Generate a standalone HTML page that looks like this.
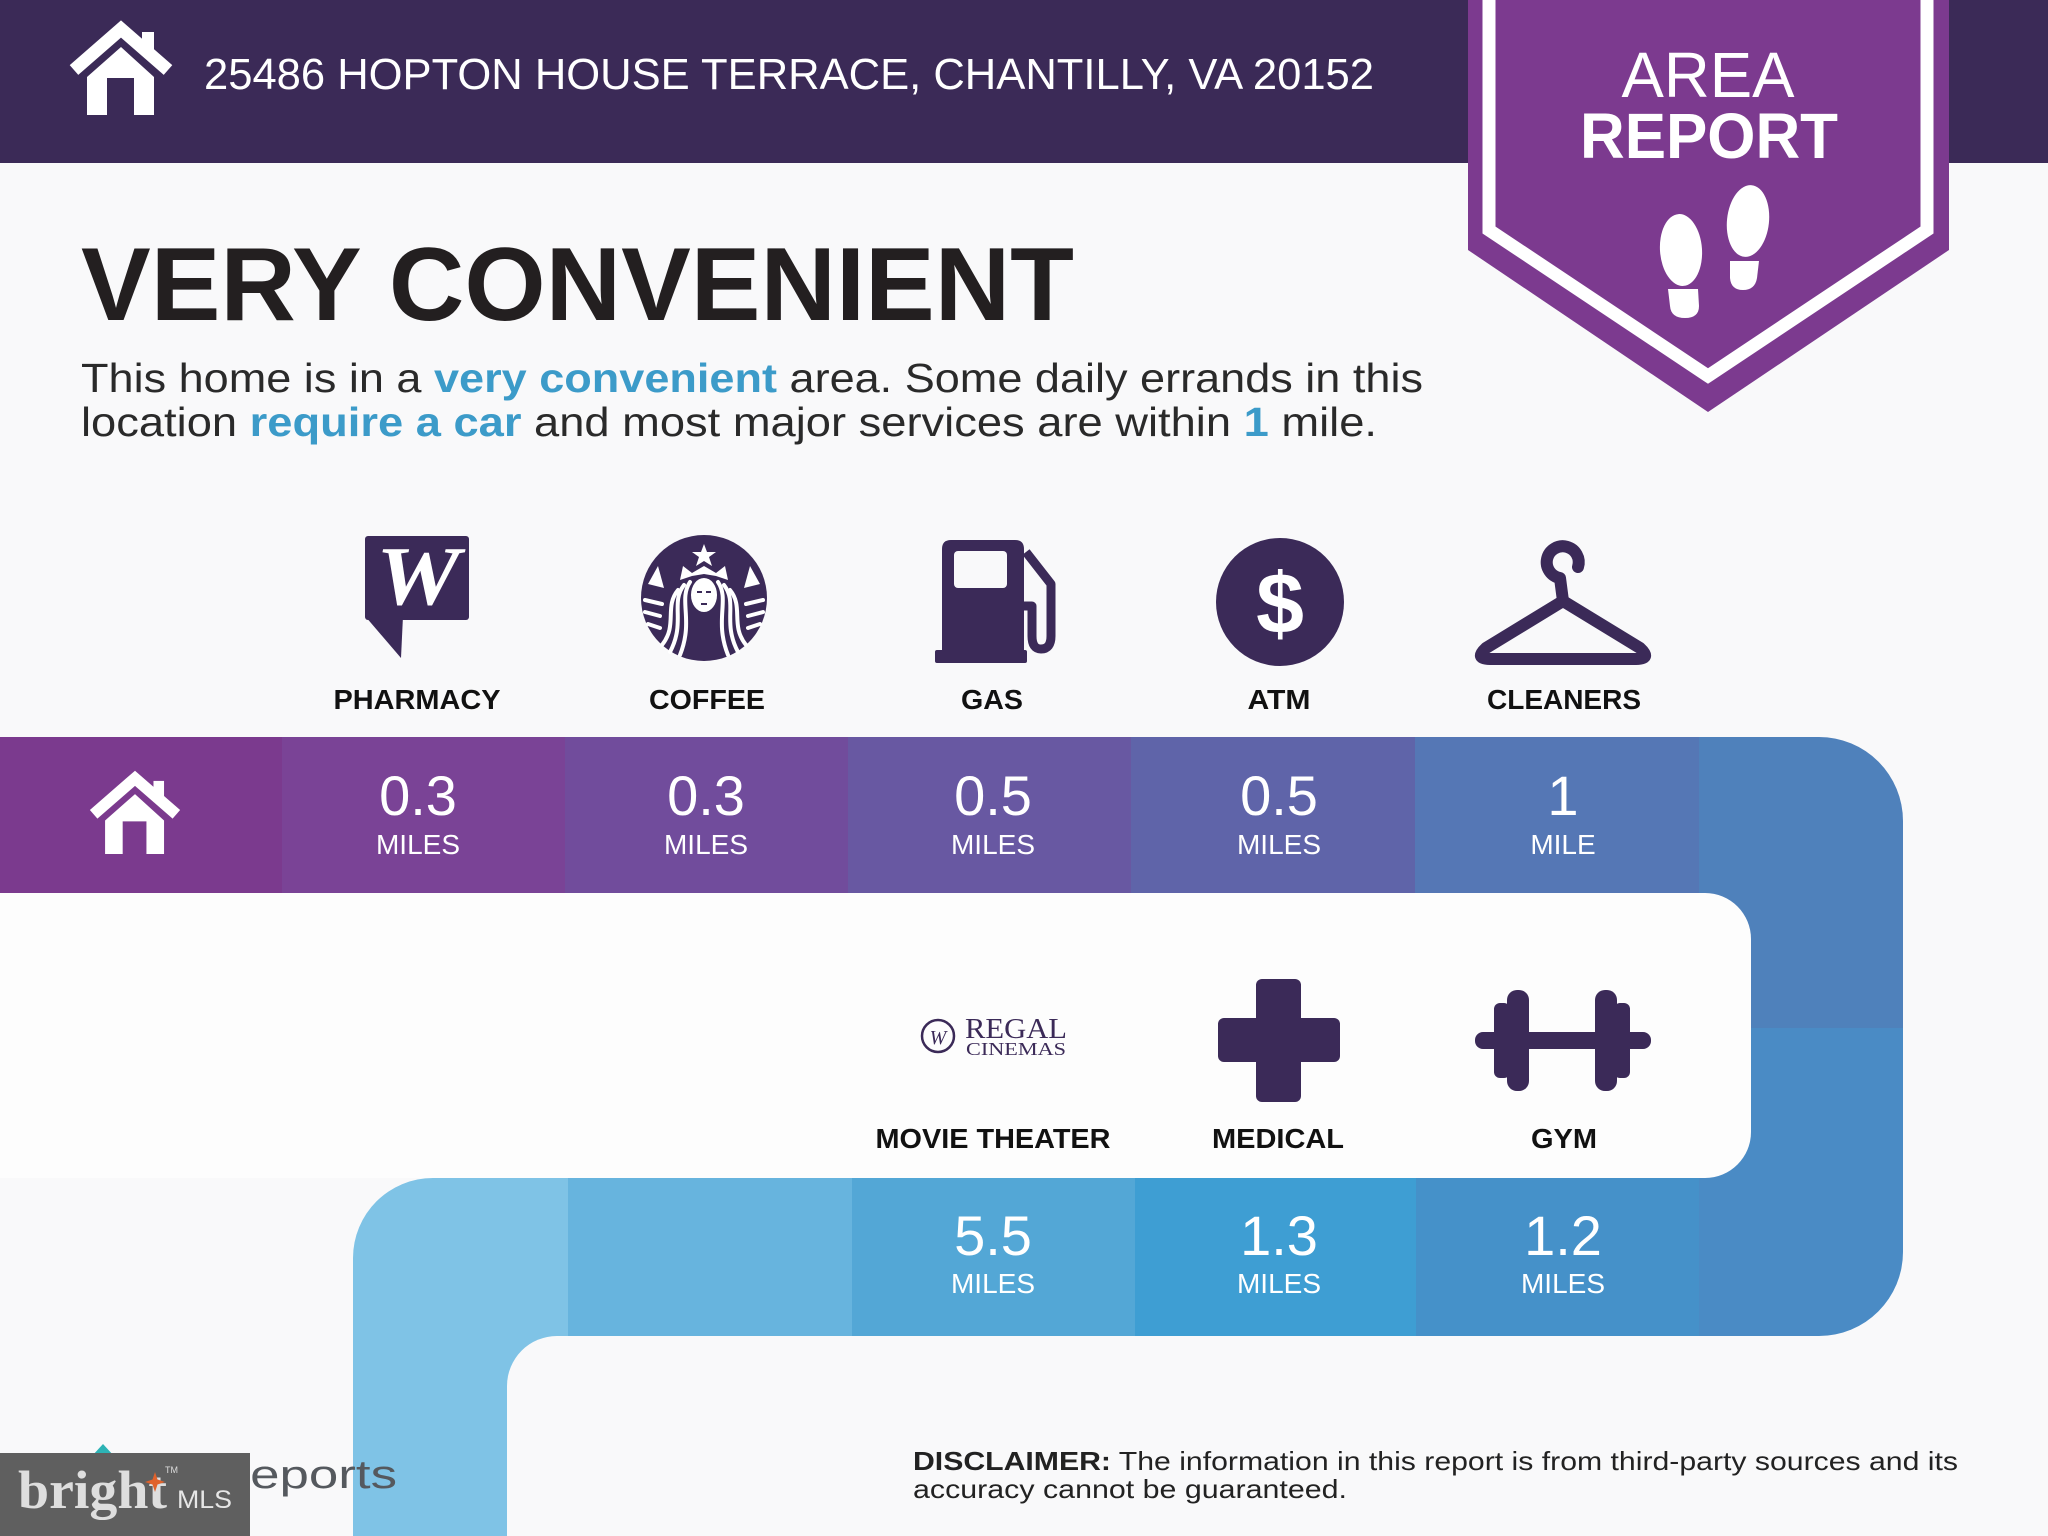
<!DOCTYPE html>
<html>
<head>
<meta charset="utf-8">
<style>
  html,body{margin:0;padding:0;background:#f9f9fa;width:2048px;height:1536px;overflow:hidden;}
  svg{display:block;}
  text{font-family:"Liberation Sans", Arial, sans-serif;}
  .serif{font-family:"Liberation Serif", "Times New Roman", serif;}
</style>
</head>
<body>
<svg width="2048" height="1536" viewBox="0 0 2048 1536" xmlns="http://www.w3.org/2000/svg" style="overflow:hidden">
  <defs>
    <clipPath id="rbar">
      <rect x="1600" y="737" width="303" height="599" rx="84" ry="84"/>
    </clipPath>
    <g id="house">
      <polyline points="3,47 50,6 97,47" fill="none" stroke="#ffffff" stroke-width="13" stroke-linejoin="miter"/>
      <rect x="71" y="9" width="12" height="24" fill="#ffffff"/>
      <path d="M16,92 L16,54 L50,24 L83,54 L83,92 L63,92 L63,55 L36,55 L36,92 Z" fill="#ffffff"/>
    </g>
  </defs>

  <!-- background -->
  <rect x="0" y="0" width="2048" height="1536" fill="#f9f9fa"/>

  <!-- header band -->
  <rect x="0" y="0" width="2048" height="163" fill="#3b2a57"/>
  <g transform="translate(71,23)"><use href="#house"/></g>
  <text x="204" y="89" font-size="44" fill="#ffffff" textLength="1170" lengthAdjust="spacingAndGlyphs">25486 HOPTON HOUSE TERRACE, CHANTILLY, VA 20152</text>

  <!-- area report badge -->
  <polygon points="1468,0 1949,0 1949,250 1708,412 1468,250" fill="#7c3a8f"/>
  <polyline points="1489,0 1489,230 1708,376 1927,230 1927,0" fill="none" stroke="#ffffff" stroke-width="13" stroke-linejoin="miter"/>
  <text x="1708" y="97" font-size="64" fill="#ffffff" text-anchor="middle" textLength="173" lengthAdjust="spacingAndGlyphs">AREA</text>
  <text x="1709" y="158" font-size="64" font-weight="bold" fill="#ffffff" text-anchor="middle" textLength="258" lengthAdjust="spacingAndGlyphs">REPORT</text>
  <!-- footprints -->
  <g fill="#ffffff">
    <ellipse cx="1681" cy="250" rx="21" ry="36" transform="rotate(-4 1681 250)"/>
    <path d="M1668,289 L1698,289 L1699,306 Q1699,318 1685,318 Q1671,318 1670,306 Z"/>
    <ellipse cx="1748" cy="221" rx="21" ry="36" transform="rotate(6 1748 221)"/>
    <path d="M1730,261 L1759,261 L1757,278 Q1755,290 1743,290 Q1731,290 1730,278 Z"/>
  </g>

  <!-- heading -->
  <text x="81" y="320" font-size="104" font-weight="bold" fill="#231f20" textLength="993" lengthAdjust="spacingAndGlyphs">VERY CONVENIENT</text>
  <text x="81" y="392" font-size="41" fill="#2a2a2a" textLength="1342" lengthAdjust="spacingAndGlyphs">This home is in a <tspan font-weight="bold" fill="#3c9bc9">very convenient</tspan> area. Some daily errands in this</text>
  <text x="81" y="436" font-size="41" fill="#2a2a2a" textLength="1296" lengthAdjust="spacingAndGlyphs">location <tspan font-weight="bold" fill="#3c9bc9">require a car</tspan> and most major services are within <tspan font-weight="bold" fill="#3c9bc9">1</tspan> mile.</text>

  <!-- ===== top icons ===== -->
  <!-- Walgreens -->
  <g fill="#3b2a58">
    <rect x="365" y="536" width="104" height="84" rx="3"/>
    <polygon points="365,616 403,616 401,658"/>
  </g>
  <text x="418" y="604" class="serif" font-size="84" font-weight="bold" font-style="italic" fill="#ffffff" text-anchor="middle" textLength="84" lengthAdjust="spacingAndGlyphs">W</text>

  <!-- Starbucks -->
  <circle cx="704" cy="598" r="63" fill="#3b2a58"/>
  <g fill="#ffffff">
    <polygon points="704,544 707,552 716,552 709,557 712,566 704,561 696,566 699,557 692,552 701,552"/>
    <polygon points="680,580 683,566 692,573 704,566 716,573 725,566 728,580 716,576 704,574 692,576"/>
    <ellipse cx="704" cy="595" rx="13" ry="17"/>
    <polygon points="648,584 658,566 664,588"/>
    <polygon points="760,584 750,566 744,588"/>
  </g>
  <g fill="#3b2a58">
    <rect x="697" y="591" width="5" height="2"/>
    <rect x="706" y="591" width="5" height="2"/>
    <rect x="701" y="603" width="6" height="2"/>
  </g>
  <g fill="none" stroke="#ffffff" stroke-width="4" stroke-linecap="round">
    <path d="M690,582 C678,600 694,620 680,655"/>
    <path d="M684,585 C670,603 686,622 670,652"/>
    <path d="M678,590 C664,607 678,625 662,645"/>
    <path d="M718,582 C730,600 714,620 728,655"/>
    <path d="M724,585 C738,603 722,622 738,652"/>
    <path d="M730,590 C744,607 730,625 746,645"/>
    <path d="M645,600 L662,604"/>
    <path d="M645,612 L660,616"/>
    <path d="M648,624 L660,628"/>
    <path d="M763,600 L746,604"/>
    <path d="M763,612 L748,616"/>
    <path d="M760,624 L748,628"/>
  </g>

  <!-- Gas pump -->
  <g fill="#3b2a58">
    <path d="M942,549 Q942,540 951,540 L1015,540 Q1024,540 1024,549 L1024,654 L942,654 Z"/>
    <rect x="935" y="650" width="92" height="13" rx="2"/>
  </g>
  <rect x="954" y="551" width="53" height="37" rx="4" fill="#f9f9fa"/>
  <path d="M1026,552 L1051,584 L1051,636 Q1051,649 1041,649 Q1032,649 1032,636 L1032,606 L1024,606" fill="none" stroke="#3b2a58" stroke-width="9" stroke-linejoin="round"/>

  <!-- ATM -->
  <circle cx="1280" cy="602" r="64" fill="#3b2a58"/>
  <text x="1280" y="633" font-size="86" font-weight="bold" fill="#ffffff" text-anchor="middle">$</text>

  <!-- Hanger -->
  <g fill="none" stroke="#3b2a58" stroke-width="12" stroke-linecap="round" stroke-linejoin="round">
    <path d="M1578,567 A16,16 0 1 0 1560,578 L1563,601"/>
    <path d="M1563,601 L1486,648 Q1474,659 1490,659 L1636,659 Q1652,659 1640,648 Z"/>
  </g>

  <!-- top labels -->
  <g font-size="28" font-weight="bold" fill="#111111" text-anchor="middle">
    <text x="417" y="709" textLength="167" lengthAdjust="spacingAndGlyphs">PHARMACY</text>
    <text x="707" y="709" textLength="116" lengthAdjust="spacingAndGlyphs">COFFEE</text>
    <text x="992" y="709" textLength="62" lengthAdjust="spacingAndGlyphs">GAS</text>
    <text x="1279" y="709" textLength="63" lengthAdjust="spacingAndGlyphs">ATM</text>
    <text x="1564" y="709" textLength="154" lengthAdjust="spacingAndGlyphs">CLEANERS</text>
  </g>

  <!-- ===== route ===== -->
  <!-- right bar -->
  <g clip-path="url(#rbar)">
    <rect x="1600" y="737" width="303" height="291" fill="#4f81bb"/>
    <rect x="1600" y="1028" width="303" height="308" fill="#4a8bc5"/>
  </g>
  <!-- left bar -->
  <path d="M353,1536 L353,1258 A80,80 0 0 1 433,1178 L773,1178 L773,1536 Z" fill="#7fc3e6"/>

  <!-- row 1 cells -->
  <rect x="0" y="737" width="282" height="156" fill="#7b3a8e"/>
  <rect x="282" y="737" width="283" height="156" fill="#7a4396"/>
  <rect x="565" y="737" width="283" height="156" fill="#714c9c"/>
  <rect x="848" y="737" width="283" height="156" fill="#6858a2"/>
  <rect x="1131" y="737" width="284" height="156" fill="#5f64a9"/>
  <rect x="1415" y="737" width="284" height="156" fill="#5577b5"/>

  <!-- row 2 cells -->
  <rect x="568" y="1178" width="284" height="158" fill="#67b4de"/>
  <rect x="852" y="1178" width="283" height="158" fill="#53a7d6"/>
  <rect x="1135" y="1178" width="281" height="158" fill="#3e9ed3"/>
  <rect x="1416" y="1178" width="283" height="158" fill="#4591c9"/>

  <!-- inner areas -->
  <path d="M0,893 L1705,893 A46,46 0 0 1 1751,939 L1751,1132 A46,46 0 0 1 1705,1178 L0,1178 Z" fill="#fdfdfd"/>
  <path d="M507,1536 L507,1386 A50,50 0 0 1 557,1336 L2048,1336 L2048,1536 Z" fill="#f9f9fa"/>

  <!-- row 1 content -->
  <g transform="translate(91,773) scale(0.88)"><use href="#house"/></g>
  <g fill="#ffffff" text-anchor="middle">
    <text x="418" y="815" font-size="56">0.3</text>
    <text x="706" y="815" font-size="56">0.3</text>
    <text x="993" y="815" font-size="56">0.5</text>
    <text x="1279" y="815" font-size="56">0.5</text>
    <text x="1563" y="815" font-size="56">1</text>
    <text x="418" y="854" font-size="28">MILES</text>
    <text x="706" y="854" font-size="28">MILES</text>
    <text x="993" y="854" font-size="28">MILES</text>
    <text x="1279" y="854" font-size="28">MILES</text>
    <text x="1563" y="854" font-size="28">MILE</text>
  </g>

  <!-- row 2 icons -->
  <!-- Regal -->
  <circle cx="938" cy="1036" r="16" fill="none" stroke="#3b2a58" stroke-width="2.5"/>
  <text x="938" y="1044" class="serif" font-size="20" fill="#3b2a58" text-anchor="middle" font-style="italic">W</text>
  <text x="965" y="1038" class="serif" font-size="29" fill="#3b2a58" textLength="102" lengthAdjust="spacingAndGlyphs">REGAL</text>
  <text x="966" y="1055" class="serif" font-size="18" fill="#3b2a58" textLength="100" lengthAdjust="spacingAndGlyphs">CINEMAS</text>
  <!-- Medical -->
  <g fill="#3b2a58">
    <rect x="1256" y="979" width="45" height="123" rx="6"/>
    <rect x="1218" y="1018" width="122" height="44" rx="6"/>
  </g>
  <!-- Dumbbell -->
  <g fill="#3b2a58">
    <rect x="1475" y="1032" width="176" height="17" rx="8"/>
    <rect x="1507" y="990" width="22" height="101" rx="10"/>
    <rect x="1494" y="1003" width="16" height="75" rx="6"/>
    <rect x="1595" y="990" width="22" height="101" rx="10"/>
    <rect x="1614" y="1003" width="16" height="75" rx="6"/>
  </g>

  <!-- row 2 labels -->
  <g font-size="28" font-weight="bold" fill="#111111" text-anchor="middle">
    <text x="993" y="1148" textLength="235" lengthAdjust="spacingAndGlyphs">MOVIE THEATER</text>
    <text x="1278" y="1148" textLength="132" lengthAdjust="spacingAndGlyphs">MEDICAL</text>
    <text x="1564" y="1148" textLength="66" lengthAdjust="spacingAndGlyphs">GYM</text>
  </g>

  <!-- row 2 content -->
  <g fill="#ffffff" text-anchor="middle">
    <text x="993" y="1255" font-size="56">5.5</text>
    <text x="1279" y="1255" font-size="56">1.3</text>
    <text x="1563" y="1255" font-size="56">1.2</text>
    <text x="993" y="1293" font-size="28">MILES</text>
    <text x="1279" y="1293" font-size="28">MILES</text>
    <text x="1563" y="1293" font-size="28">MILES</text>
  </g>

  <!-- disclaimer -->
  <text x="913" y="1470" font-size="26" fill="#222222" textLength="1045" lengthAdjust="spacingAndGlyphs"><tspan font-weight="bold">DISCLAIMER:</tspan> The information in this report is from third-party sources and its</text>
  <text x="913" y="1498" font-size="26" fill="#222222" textLength="434" lengthAdjust="spacingAndGlyphs">accuracy cannot be guaranteed.</text>

  <!-- bottom-left logo area -->
  <polygon points="92,1456 103,1444 114,1456" fill="#2db3b5"/>
  <text x="212" y="1488" font-size="40" fill="#55595e" textLength="185" lengthAdjust="spacingAndGlyphs">Reports</text>
  <rect x="0" y="1453" width="250" height="83" fill="#5f5f5f"/>
  <text x="18" y="1508" class="serif" font-size="54" font-weight="bold" fill="#dedede" textLength="149" lengthAdjust="spacingAndGlyphs">bright</text>
  <polygon points="155,1472 157.5,1479.5 165,1482 157.5,1484.5 155,1492 152.5,1484.5 145,1482 152.5,1479.5" fill="#e0622c"/>
  <text x="165" y="1473" font-size="9" fill="#dddddd">TM</text>
  <text x="177" y="1508" font-size="25" fill="#e6e6e6" textLength="55" lengthAdjust="spacingAndGlyphs">MLS</text>
</svg>
</body>
</html>
